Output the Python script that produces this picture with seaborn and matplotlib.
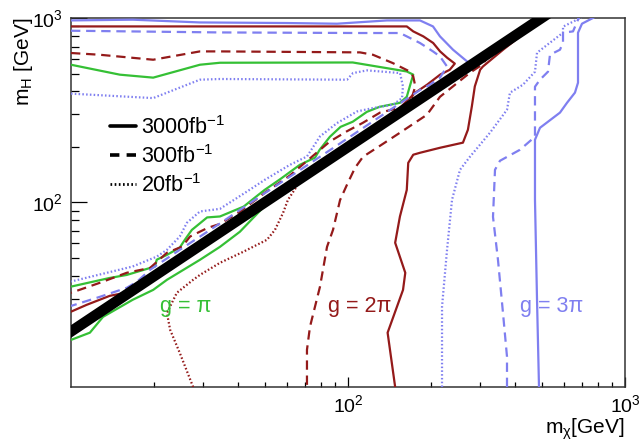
import matplotlib
matplotlib.use("Agg")
import matplotlib.pyplot as plt
import seaborn as sns
from matplotlib.lines import Line2D
from matplotlib.ticker import FixedLocator, NullFormatter, LogFormatterSciNotation

sns.set_theme(style="white")
plt.rcParams["font.family"] = ["Liberation Sans", "DejaVu Sans"]
plt.rcParams["mathtext.fontset"] = "custom"
plt.rcParams["mathtext.rm"] = "Liberation Sans"
plt.rcParams["mathtext.it"] = "Liberation Sans:italic"
plt.rcParams["mathtext.default"] = "regular"

# ---------------------------------------------------------------- data
# kinematic threshold m_H = 2 m_chi (runs past both frame edges, clipped by the axes)
threshold_mchi = [9, 540]
threshold_mH = [18, 1080]

# g = pi, 3000 fb^-1
gpi_3000_upper_mchi = [10, 15.0, 19.8, 29.2, 34.5, 104, 127, 163, 172, 167, 163, 154, 130, 117, 104,
                       94, 86, 79, 76, 67, 57, 50, 46, 42, 34.5, 31, 27.3, 25.8, 24.7, 22.2, 20.4,
                       20.1, 15.9, 13.8, 10]
gpi_3000_upper_mH = [558, 493, 475, 558, 572, 574, 546, 513, 493, 424, 374, 347, 330, 310, 274,
                     257, 227, 193, 175, 160, 134, 117, 106, 95, 84, 83, 71, 63, 57, 52, 49,
                     45, 40.5, 39, 35]
gpi_3000_lower_mchi = [10, 11.7, 13.05, 16.7, 19.8, 22.2, 29.2, 34.5, 40.7, 50.1]
gpi_3000_lower_mH = [18.0, 19.7, 24.0, 29.7, 33.6, 38.1, 48.9, 57.5, 69.4, 96]

# g = 2pi, 3000 fb^-1
g2pi_3000_top_mchi = [10, 34.5, 163, 172, 187, 203, 215, 228, 243, 233, 215, 193, 175, 148]
g2pi_3000_top_mH = [900, 900, 900, 846, 795, 732, 659, 609, 566, 524, 493, 435, 394, 307]
g2pi_3000_left_mchi = [10, 11.4, 13.8, 15.7]
g2pi_3000_left_mH = [25.6, 27.9, 31.2, 32.4]
g2pi_3000_right_mchi = [473, 418, 363, 307, 300, 287, 280, 271, 260, 215, 182, 172, 165, 163,
                        154, 148, 161, 158, 139, 148]
g2pi_3000_right_mH = [979, 795, 673, 546, 524, 426, 332, 248, 211, 198, 186, 181.5, 164, 117,
                      84, 60.5, 41.6, 33.6, 19.7, 10]

# g = 2pi, 300 fb^-1
g2pi_300_upper_mchi = [10, 12.7, 19.8, 29.2, 34.5, 110.5, 123, 145, 167, 172, 175, 170, 161, 130.5,
                       113, 99, 86, 77, 61.7, 50.1, 40.7, 34.5, 31.0, 26.9, 25.2, 22.2, 19.3, 15.9,
                       12.7, 10]
g2pi_300_upper_mH = [646, 632, 594, 659, 659, 651, 632, 570, 513, 482, 426, 370, 332, 307,
                     270, 243, 214, 186, 140, 113, 89, 76.6, 72.6, 65.4, 57.7, 53.4, 44.2, 41.6,
                     36.7, 32.4]
g2pi_300_right_mchi = [325.5, 304.7, 275.6, 239.4, 214.8, 192.8, 154.1, 130.5, 113.3, 106.0, 99.2,
                       93.6, 88.3, 84.0, 79.2, 72.9, 71.1, 71.1]
g2pi_300_right_mH = [632, 558, 505, 426, 374, 299, 239, 203, 177, 154, 125,
                     103, 71.1, 57.5, 34.9, 21.2, 15.9, 10]

# g = 2pi, 20 fb^-1
g2pi_20_mchi = [27.6, 24.7, 22.8, 22.2, 24.1, 27.6, 29.2, 34.5, 41.8, 51.0, 54.5, 58.3, 60.7, 65.5]
g2pi_20_mH = [10, 15.3, 20.4, 25.2, 32.4, 38.1, 40.5, 47.1, 54.0, 62.8, 71.1, 87.9, 103.4, 123]

# g = 3pi, 3000 fb^-1
g3pi_3000_top_mchi = [10, 16.7, 29.2, 60.2, 91.3, 138.3, 181.9, 202.7, 214.8, 239.4, 268.9, 285]
g3pi_3000_top_mH = [970, 979, 946, 939, 931, 970, 970, 900, 795, 673, 582, 538]
g3pi_3000_right_mchi = [489.3, 481.3, 473.2, 473.2, 493.3, 582.5, 617.5, 659.8, 676.7, 676.7,
                        699.4, 766, 800]
g3pi_3000_right_mH = [10, 29.7, 103.4, 218.8, 254, 307, 347, 394, 446, 832, 931, 1000, 1040]

# g = 3pi, 300 fb^-1
g3pi_300_upper_mchi = [10, 34.5, 110.5, 154.1, 181.9, 202.7, 214.8, 227.8, 214.8, 197.7, 181.9,
                       130.5, 93.6, 67.1, 48.1, 34.5, 24.7, 19.3, 17.3, 15.9, 12.7, 10]
g3pi_300_upper_mH = [853, 835, 829, 829, 732, 659, 619, 546, 475, 435, 407,
                     292, 209, 150, 108, 77, 55.4, 43.2, 37.2, 34.5, 30.8, 27.5]
g3pi_300_right_mchi = [375, 375, 362.7, 347.9, 333.8, 339.4, 353.7, 417.7, 473.2, 473.2, 493.3,
                       527.2, 536, 582.5, 597.4, 597.4, 649.2, 676.7, 687.9]
g3pi_300_right_mH = [10, 14.6, 25.2, 48.9, 83.6, 150.4, 168.3, 193.1, 227.2, 424.1, 463,
                     511.4, 632, 673, 734.5, 832.4, 846, 979, 1020]

# g = 3pi, 20 fb^-1
g3pi_20_upper_mchi = [10, 19.8, 29.2, 34.5, 99.2, 104.3, 117.1, 154.1, 157.9, 156.7, 145.4, 123.1,
                      107.8, 91.3, 79.2, 71.1, 61.7, 50.1, 42.5, 34.5, 29.2, 26.2, 24.7, 22.2,
                      20.4, 16.7, 10]
g3pi_20_upper_mH = [389, 368, 463, 467, 463, 503, 520, 503, 426, 368, 339, 325,
                    311.5, 269.5, 228, 177.6, 160, 132.8, 112.9, 92.4, 89.4, 77.6, 65.4, 55.4,
                    50.9, 45.0, 37.3]
g3pi_20_right_mchi = [218.5, 218.5, 227.8, 237.4, 253.7, 275.6, 325.5, 375, 384.3, 428.3, 473.2,
                      481.3, 536, 597.4, 597.4, 670.9, 720]
g3pi_20_right_mH = [10, 27.2, 55.4, 103.4, 150.4, 177, 238.8, 318.2, 393.5, 435, 511.4,
                    648.3, 734.5, 832.4, 897, 979, 1040]

lumi_labels = ["3000fb$^{-1}$", "300fb$^{-1}$", "20fb$^{-1}$"]
coupling_labels = ["g = \u03c0", "g = 2\u03c0", "g = 3\u03c0"]

# ---------------------------------------------------------------- style
GREEN = "#35c035"
DARKRED = "#941a1a"
BLUE = "#7f7ff0"
LW = 1.6
STYLES = {
    "solid": "-",
    "dashed": (0, (4.2, 2.6)),
    "dotted": (0, (0.7, 1.0)),
}

fig = plt.figure(figsize=(6.42, 4.43), dpi=100)
ax = fig.add_axes([0.1106, 0.1264, 0.8629, 0.833])
ax.set_xscale("log")
ax.set_yscale("log")


def contour(mchi, mH, color, style):
    sns.lineplot(x=mchi, y=mH, sort=False, estimator=None, color=color, lw=LW,
                 linestyle=STYLES[style], ax=ax, zorder=3)


contour(gpi_3000_upper_mchi, gpi_3000_upper_mH, GREEN, "solid")
contour(gpi_3000_lower_mchi, gpi_3000_lower_mH, GREEN, "solid")

contour(g2pi_3000_top_mchi, g2pi_3000_top_mH, DARKRED, "solid")
contour(g2pi_3000_left_mchi, g2pi_3000_left_mH, DARKRED, "solid")
contour(g2pi_3000_right_mchi, g2pi_3000_right_mH, DARKRED, "solid")
contour(g2pi_300_upper_mchi, g2pi_300_upper_mH, DARKRED, "dashed")
contour(g2pi_300_right_mchi, g2pi_300_right_mH, DARKRED, "dashed")
contour(g2pi_20_mchi, g2pi_20_mH, DARKRED, "dotted")

contour(g3pi_3000_top_mchi, g3pi_3000_top_mH, BLUE, "solid")
contour(g3pi_3000_right_mchi, g3pi_3000_right_mH, BLUE, "solid")
contour(g3pi_300_upper_mchi, g3pi_300_upper_mH, BLUE, "dashed")
contour(g3pi_300_right_mchi, g3pi_300_right_mH, BLUE, "dashed")
contour(g3pi_20_upper_mchi, g3pi_20_upper_mH, BLUE, "dotted")
contour(g3pi_20_right_mchi, g3pi_20_right_mH, BLUE, "dotted")

# threshold band drawn over the contours
sns.lineplot(x=threshold_mchi, y=threshold_mH, sort=False, estimator=None, color="black",
             lw=7.6, ax=ax, zorder=6, solid_capstyle="butt")

ax.set_xlim(10, 1000)
ax.set_ylim(10, 1000)

# coupling labels
ax.text(25.9, 25.5, coupling_labels[0], color=GREEN, fontsize=15.5, ha="center", va="baseline")
ax.text(110.5, 25.5, coupling_labels[1], color=DARKRED, fontsize=15.5, ha="center", va="baseline")
ax.text(545, 25.5, coupling_labels[2], color=BLUE, fontsize=15.5, ha="center", va="baseline")

# luminosity legend
handles = [Line2D([], [], color="black", lw=2.6, linestyle=STYLES["solid"]),
           Line2D([], [], color="black", lw=2.6, linestyle=(0, (2.6, 2.0))),
           Line2D([], [], color="black", lw=2.0, linestyle=(0, (0.6, 0.9)))]
leg = ax.legend(handles, lumi_labels, loc="upper left", bbox_to_anchor=(0.0704, 0.735),
                frameon=False, borderaxespad=0, borderpad=0, handlelength=1.2,
                handletextpad=0.25, labelspacing=0.28, fontsize=15.5)
for t in leg.get_texts():
    t.set_color("black")

# axes frame and ticks
for side in ["left", "right", "top", "bottom"]:
    ax.spines[side].set_visible(True)
    ax.spines[side].set_color("#333333")
    ax.spines[side].set_linewidth(1.1)
ax.grid(False)

ax.xaxis.set_major_locator(FixedLocator([100, 1000]))
ax.xaxis.set_minor_locator(FixedLocator([20, 30, 40, 50, 60, 70, 80, 90,
                                         200, 300, 400, 500, 600, 700, 800, 900]))
ax.yaxis.set_major_locator(FixedLocator([100, 1000]))
ax.yaxis.set_minor_locator(FixedLocator([30, 40, 50, 60, 70, 80, 90,
                                         200, 300, 400, 500, 600, 700, 800, 900]))
ax.xaxis.set_major_formatter(LogFormatterSciNotation())
ax.yaxis.set_major_formatter(LogFormatterSciNotation())
ax.xaxis.set_minor_formatter(NullFormatter())
ax.yaxis.set_minor_formatter(NullFormatter())

ax.tick_params(axis="x", which="major", direction="in", length=7.2, width=0.9, pad=5,
               labelsize=14, colors="black", top=False, bottom=True)
ax.tick_params(axis="x", which="minor", direction="in", length=3.6, width=0.9,
               colors="black", top=False, bottom=True)
ax.tick_params(axis="y", which="major", direction="in", length=11.5, width=0.9, pad=6,
               labelsize=14, colors="black", left=True, right=False)
ax.tick_params(axis="y", which="minor", direction="in", length=5.8, width=0.9,
               colors="black", left=True, right=False)

ax.set_xlabel("m$_{\u03c7}$[GeV]", fontsize=15, loc="right", color="black")
ax.set_ylabel("m$_{H}$ [GeV]", fontsize=15, loc="top", color="black")
ax.xaxis.set_label_coords(1.0, -0.08)
ax.yaxis.set_label_coords(-0.065, 1.0)

fig.savefig("out.png", dpi=100)
